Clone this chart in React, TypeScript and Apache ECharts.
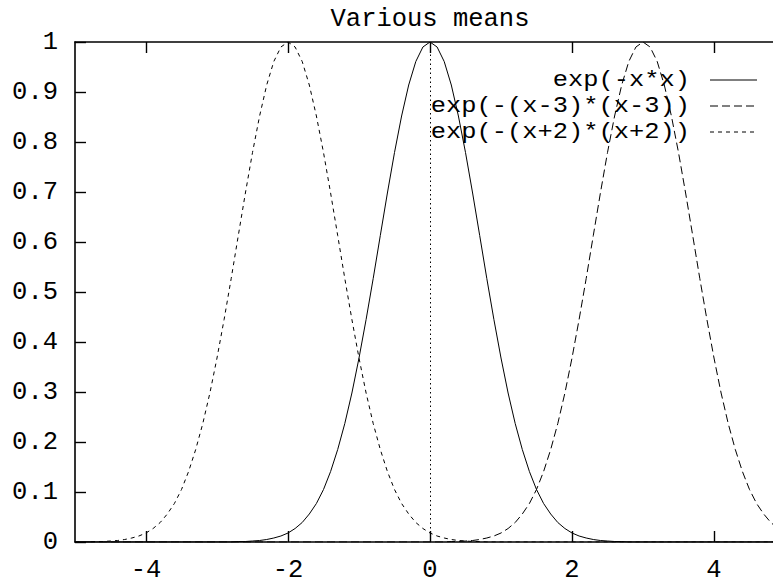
import React, { useEffect, useRef } from "react";
import * as echarts from "echarts";

// Samples are taken every 0.1 from x = -5 to x = 5 (101 points per curve).
const X_START = -5;
const X_STEP = 0.1;

// exp(-x*x)
const gaussAtZero = [
  0, 0, 0, 0, 0, 0, 0, 0, 0, 0, 0, 0, 0, 0, 0, 0, 0, 0, 0, 0, 0, 0, 0,
  0.001, 0.001, 0.002, 0.003, 0.005, 0.008, 0.012, 0.018, 0.027, 0.039, 0.056, 0.077, 0.105,
  0.141, 0.185, 0.237, 0.298, 0.368, 0.445, 0.527, 0.613, 0.698, 0.779, 0.852, 0.914, 0.961, 0.99,
  1,
  0.99, 0.961, 0.914, 0.852, 0.779, 0.698, 0.613, 0.527, 0.445, 0.368, 0.298, 0.237, 0.185, 0.141,
  0.105, 0.077, 0.056, 0.039, 0.027, 0.018, 0.012, 0.008, 0.005, 0.003, 0.002, 0.001, 0.001,
  0, 0, 0, 0, 0, 0, 0, 0, 0, 0, 0, 0, 0, 0, 0, 0, 0, 0, 0, 0, 0, 0, 0,
];

// exp(-(x-3)*(x-3))
const gaussAtThree = [
  0, 0, 0, 0, 0, 0, 0, 0, 0, 0, 0, 0, 0, 0, 0, 0, 0, 0, 0, 0,
  0, 0, 0, 0, 0, 0, 0, 0, 0, 0, 0, 0, 0, 0, 0, 0, 0, 0, 0, 0,
  0, 0, 0, 0, 0, 0, 0, 0, 0, 0, 0, 0, 0,
  0.001, 0.001, 0.002, 0.003, 0.005, 0.008, 0.012, 0.018, 0.027, 0.039, 0.056, 0.077, 0.105,
  0.141, 0.185, 0.237, 0.298, 0.368, 0.445, 0.527, 0.613, 0.698, 0.779, 0.852, 0.914, 0.961, 0.99,
  1,
  0.99, 0.961, 0.914, 0.852, 0.779, 0.698, 0.613, 0.527, 0.445, 0.368, 0.298, 0.237, 0.185, 0.141,
  0.105, 0.077, 0.056, 0.039, 0.027, 0.018,
];

// exp(-(x+2)*(x+2))
const gaussAtMinusTwo = [
  0, 0, 0,
  0.001, 0.001, 0.002, 0.003, 0.005, 0.008, 0.012, 0.018, 0.027, 0.039, 0.056, 0.077, 0.105,
  0.141, 0.185, 0.237, 0.298, 0.368, 0.445, 0.527, 0.613, 0.698, 0.779, 0.852, 0.914, 0.961, 0.99,
  1,
  0.99, 0.961, 0.914, 0.852, 0.779, 0.698, 0.613, 0.527, 0.445, 0.368, 0.298, 0.237, 0.185, 0.141,
  0.105, 0.077, 0.056, 0.039, 0.027, 0.018, 0.012, 0.008, 0.005, 0.003, 0.002, 0.001, 0.001,
  0, 0, 0, 0, 0, 0, 0, 0, 0, 0, 0, 0, 0, 0, 0, 0, 0, 0, 0, 0,
  0, 0, 0, 0, 0, 0, 0, 0, 0, 0, 0, 0, 0, 0, 0, 0, 0, 0, 0, 0,
  0, 0, 0,
];

const seriesNames = ["exp(-x*x)", "exp(-(x-3)*(x-3))", "exp(-(x+2)*(x+2))"];
const xTickValues = [-4, -2, 0, 2, 4];
const chartTitle = "Various means";

const FONT = "'Liberation Mono', 'DejaVu Sans Mono', monospace";
const FONT_SIZE = 25.5;
const KEY_FONT_SIZE = 22.5;
const INK = "#000";

// The drawing surface is wider than the visible window, so the right-hand
// frame (x = 5) falls just past the visible edge.
const CANVAS_W = 800;
const VIEW_W = 773;
const VIEW_H = 583;

const toPairs = (ys: number[]) =>
  ys.map((y, i) => [Number((X_START + i * X_STEP).toFixed(1)), y]);

const dashStyles: (string | number[])[] = ["solid", [8, 4], [4, 4]];

export default function App() {
  const ref = useRef<HTMLDivElement>(null);

  useEffect(() => {
    if (!ref.current) return;
    const chart = echarts.init(ref.current, undefined, { renderer: "svg" });

    const axisLine = { show: true, onZero: false, lineStyle: { color: INK, width: 1.6 } };
    const tick = { show: true, inside: true, length: 11, lineStyle: { color: INK, width: 1.4 } };
    const labelFont = { fontFamily: FONT, fontSize: FONT_SIZE, color: INK };

    const allSeries = [gaussAtZero, gaussAtThree, gaussAtMinusTwo];

    // Key: right-aligned names followed by a short sample of each line style
    const legendRowsY = [80, 106, 132];
    const legendGraphics: any[] = [];
    seriesNames.forEach((name, i) => {
      legendGraphics.push({
        type: "text",
        x: 690,
        y: legendRowsY[i],
        scaleX: 1.13,
        style: {
          text: name,
          fill: INK,
          font: `${KEY_FONT_SIZE}px ${FONT}`,
          align: "right",
          verticalAlign: "middle",
        },
      });
      legendGraphics.push({
        type: "line",
        shape: { x1: 710, y1: legendRowsY[i], x2: 757, y2: legendRowsY[i] },
        style: {
          stroke: INK,
          lineWidth: 1,
          lineDash: dashStyles[i] === "solid" ? null : dashStyles[i],
        },
      });
    });

    chart.setOption({
      animation: false,
      backgroundColor: "#fff",
      grid: { left: 75, top: 42, right: CANVAS_W - 785, bottom: 40, containLabel: false },
      xAxis: [
        {
          type: "value",
          min: -5,
          max: 5,
          position: "bottom",
          axisLine,
          axisTick: { ...tick, customValues: xTickValues },
          axisLabel: { ...labelFont, margin: 15, customValues: xTickValues },
          splitLine: { show: false },
        },
        {
          type: "value",
          min: -5,
          max: 5,
          position: "top",
          axisLine,
          axisTick: { ...tick, customValues: xTickValues },
          axisLabel: { show: false },
          splitLine: { show: false },
        },
      ],
      yAxis: [
        {
          type: "value",
          min: 0,
          max: 1,
          interval: 0.1,
          position: "left",
          axisLine,
          axisTick: tick,
          axisLabel: { ...labelFont, margin: 17 },
          splitLine: { show: false },
        },
        {
          type: "value",
          min: 0,
          max: 1,
          interval: 0.1,
          position: "right",
          axisLine,
          axisTick: tick,
          axisLabel: { show: false },
          splitLine: { show: false },
        },
      ],
      series: allSeries.map((ys, i) => ({
        name: seriesNames[i],
        type: "line",
        data: toPairs(ys),
        showSymbol: false,
        symbol: "none",
        lineStyle: { color: INK, width: 1, type: dashStyles[i] },
        ...(i === 0
          ? {
              // dotted zero axis at x = 0
              markLine: {
                silent: true,
                symbol: "none",
                label: { show: false },
                lineStyle: { color: INK, width: 1, type: [1.5, 3] },
                data: [{ xAxis: 0 }],
              },
            }
          : {}),
      })),
      graphic: [
        {
          type: "text",
          x: 430,
          y: 19,
          style: {
            text: chartTitle,
            fill: INK,
            font: `${FONT_SIZE}px ${FONT}`,
            align: "center",
            verticalAlign: "middle",
          },
        },
        ...legendGraphics,
      ],
    });

    return () => chart.dispose();
  }, []);

  return (
    <div
      style={{
        position: "fixed",
        left: 0,
        top: 0,
        width: VIEW_W,
        height: VIEW_H,
        overflow: "hidden",
        background: "#fff",
      }}
    >
      <div ref={ref} style={{ width: CANVAS_W, height: VIEW_H }} />
    </div>
  );
}
